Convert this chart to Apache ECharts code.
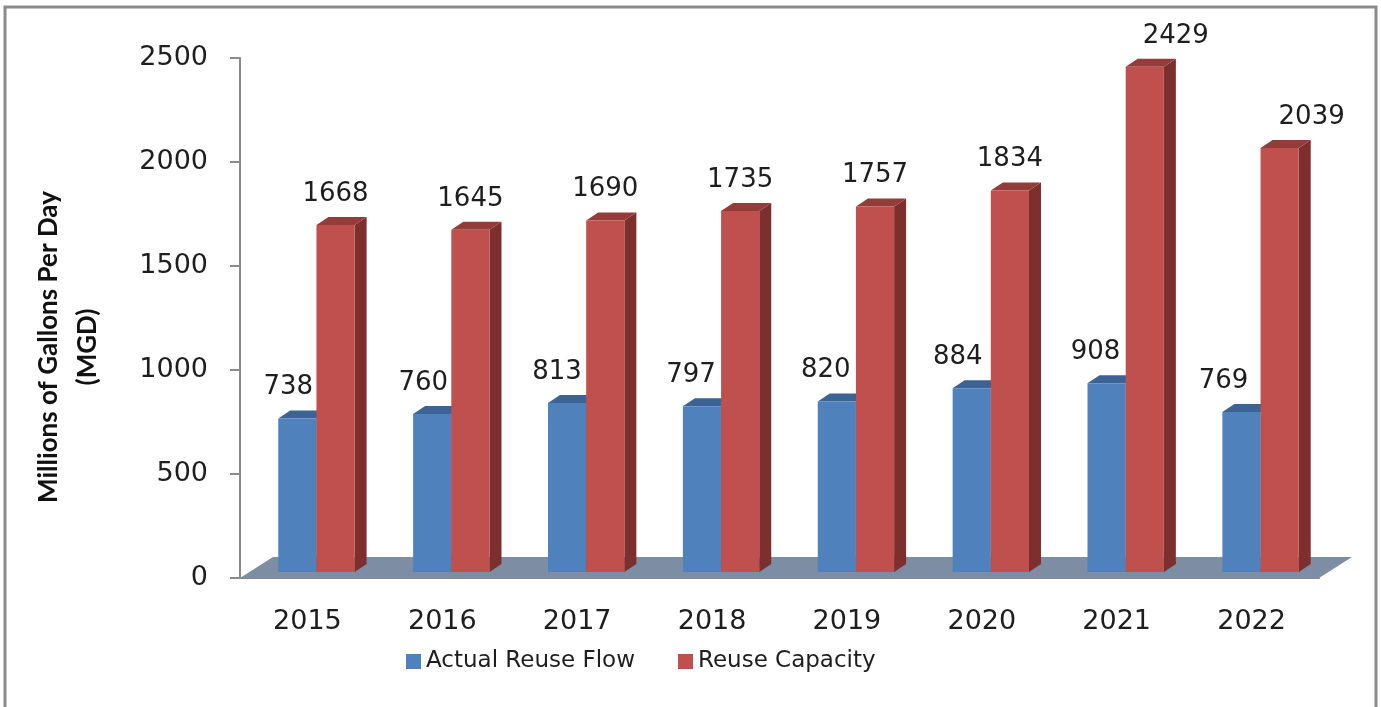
<!DOCTYPE html>
<html>
<head>
<meta charset="utf-8">
<title>Reuse Flow vs Capacity</title>
<script src="https://cdn.jsdelivr.net/npm/echarts@6/dist/echarts.min.js"></script>
<style>
  html, body { margin: 0; padding: 0; background: #fff; }
  #chart { width: 1381px; height: 707px; }
</style>
</head>
<body>
<div id="chart"></div>
<script>
const years = ['2015', '2016', '2017', '2018', '2019', '2020', '2021', '2022']
const actualFlow = [738, 760, 813, 797, 820, 884, 908, 769]
const capacity = [1668, 1645, 1690, 1735, 1757, 1834, 2429, 2039]
const yTicks = { min: 0, max: 2500, step: 500 }

// fake 3D look (Excel style)
const depth = [12, -8]       // side/top face offset
const lift = [9, 6]          // bars sit a little back on the floor
const floorDepth = [33, -21]
const barRatio = 0.283
// label nudges
const labelDx = {
  flow: [-9, -9, -10, -11, -11, -14, -11, -18],
  capacity: [0, 0, 0, 0, 0, 0, 31, 32]
}

const textColor = '#1e1e1e'
const font = 'DejaVu Sans'

function barRender(isFlow, colors, dxList) {
  return function (params, api) {
    const i = api.value(0)
    const v = api.value(1)
    const base = api.coord([i, 0])
    const peak = api.coord([i, v])
    const band = api.size([1, 0])[0]
    const w = band * barRatio
    const x0 = base[0] + lift[0] - (isFlow ? w : 0)
    const x1 = x0 + w
    const yb = base[1] - lift[1]
    const yt = peak[1] - lift[1]
    const [dx, dy] = depth
    return {
      type: 'group',
      children: [
        {
          type: 'polygon',
          shape: { points: [[x1, yt], [x1 + dx, yt + dy], [x1 + dx, yb + dy], [x1, yb]] },
          style: { fill: colors.side }
        },
        {
          type: 'polygon',
          shape: { points: [[x0, yt], [x1, yt], [x1 + dx, yt + dy], [x0 + dx, yt + dy]] },
          style: { fill: colors.top }
        },
        {
          type: 'rect',
          shape: { x: x0, y: yt, width: w, height: yb - yt },
          style: { fill: colors.front }
        },
        {
          type: 'text',
          x: (x0 + x1) / 2 + dxList[i],
          y: yt - 31,
          style: {
            text: String(v),
            fill: textColor,
            font: '26px "' + font + '"',
            align: 'center',
            verticalAlign: 'middle'
          }
        }
      ]
    }
  }
}

function floorRender(params, api) {
  const first = api.coord([0, 0])
  const last = api.coord([years.length - 1, 0])
  const band = api.size([1, 0])[0]
  const xl = first[0] - band / 2
  const xr = last[0] + band / 2
  const y = first[1]
  const [dx, dy] = floorDepth
  return {
    type: 'polygon',
    shape: { points: [[xl, y], [xr, y], [xr + dx, y + dy], [xl + dx, y + dy]] },
    style: { fill: '#7c8da4' }
  }
}

const chart = echarts.init(document.getElementById('chart'))

chart.setOption({
  animation: false,
  backgroundColor: '#fff',
  grid: { left: 240, right: 62, top: 58, bottom: 129 },
  graphic: [
    {
      type: 'rect',
      shape: { x: 5, y: 7, width: 1371, height: 760 },
      style: { fill: 'none', stroke: '#8a8a8a', lineWidth: 3 },
      silent: true
    },
    {
      type: 'text',
      x: 68,
      y: 347,
      rotation: Math.PI / 2,
      style: {
        text: 'Millions of Gallons Per Day\n(MGD)',
        fill: '#111',
        font: 'bold 26px Lato',
        align: 'center',
        verticalAlign: 'middle',
        lineHeight: 39
      }
    }
  ],
  legend: {
    left: 401,
    top: 645,
    itemWidth: 15,
    itemHeight: 15,
    itemGap: 43,
    icon: 'rect',
    textStyle: { fontFamily: font, fontSize: 23, color: textColor },
    data: ['Actual Reuse Flow', 'Reuse Capacity']
  },
  xAxis: {
    type: 'category',
    data: years,
    axisLine: { lineStyle: { color: '#8a8a8a', width: 2 } },
    axisTick: { length: 10, interval: 0, lineStyle: { color: '#8a8a8a', width: 2 } },
    axisLabel: { fontFamily: font, fontSize: 27, color: textColor, margin: 30 }
  },
  yAxis: {
    type: 'value',
    min: yTicks.min,
    max: yTicks.max,
    interval: yTicks.step,
    splitLine: { show: false },
    axisLine: { show: true, lineStyle: { color: '#8a8a8a', width: 2 } },
    axisTick: { show: true, length: 10, lineStyle: { color: '#8a8a8a', width: 2 } },
    axisLabel: {
      fontFamily: font,
      fontSize: 27,
      color: textColor,
      margin: 32,
      formatter: v => String(v)
    }
  },
  series: [
    {
      name: 'floor',
      type: 'custom',
      renderItem: floorRender,
      data: [[0, 0]],
      silent: true,
      z: 1
    },
    {
      name: 'Actual Reuse Flow',
      type: 'custom',
      itemStyle: { color: '#4f81bd' },
      renderItem: barRender(true, { front: '#4f81bd', top: '#3b6394', side: '#385d8a' }, labelDx.flow),
      encode: { x: 0, y: 1 },
      data: actualFlow.map((v, i) => [i, v]),
      z: 2
    },
    {
      name: 'Reuse Capacity',
      type: 'custom',
      itemStyle: { color: '#c0504d' },
      renderItem: barRender(false, { front: '#c0504d', top: '#933c3a', side: '#7d2f2d' }, labelDx.capacity),
      encode: { x: 0, y: 1 },
      data: capacity.map((v, i) => [i, v]),
      z: 3
    }
  ]
})
</script>
</body>
</html>
